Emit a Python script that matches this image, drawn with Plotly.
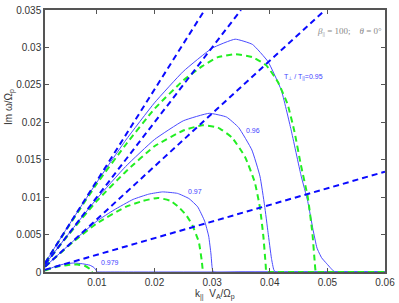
import plotly.graph_objects as go

# ---- data ----
# Blue solid: growth rate curves (T_perp/T_par = 0.95, 0.96, 0.97, 0.979)
k_095 = [0.001, 0.005, 0.010, 0.015, 0.020, 0.025, 0.030, 0.034, 0.037, 0.0397, 0.042, 0.0437, 0.0454, 0.0466, 0.0475, 0.0482, 0.0490, 0.0499, 0.0506, 0.0511, 0.0513, 0.052, 0.056, 0.060]
g_095 = [0.0012, 0.0061, 0.0120, 0.0176, 0.0226, 0.0268, 0.0299, 0.0311, 0.0304, 0.0281, 0.0243, 0.0190, 0.0130, 0.0094, 0.0057, 0.0032, 0.0019, 0.0011, 0.0005, 0.0001, 0.0, 0.0, 0.0, 0.0]

k_096 = [0.001, 0.005, 0.010, 0.015, 0.020, 0.025, 0.0295, 0.0325, 0.0346, 0.0369, 0.0383, 0.0391, 0.0397, 0.0403, 0.0407, 0.0410, 0.045, 0.060]
g_096 = [0.0010, 0.0050, 0.0098, 0.0141, 0.0177, 0.0202, 0.0212, 0.0207, 0.0193, 0.0163, 0.0128, 0.0089, 0.0053, 0.0018, 0.0003, 0.0, 0.0, 0.0]

k_097 = [0.001, 0.006, 0.010, 0.013, 0.0163, 0.0190, 0.0214, 0.024, 0.026, 0.0275, 0.0287, 0.0294, 0.0298, 0.0300, 0.0302, 0.035, 0.060]
g_097 = [0.0007, 0.0042, 0.0068, 0.0083, 0.0097, 0.0104, 0.0107, 0.0105, 0.0098, 0.0087, 0.0068, 0.0048, 0.0024, 0.0006, 0.0, 0.0, 0.0]

k_0979 = [0.001, 0.002, 0.003, 0.0045, 0.006, 0.0075, 0.0088, 0.0095, 0.0099, 0.0100, 0.0102, 0.015, 0.060]
g_0979 = [0.0002, 0.0005, 0.0008, 0.0011, 0.0012, 0.0011, 0.0009, 0.0006, 0.0002, 0.0, 0.0, 0.0, 0.0]

# Green dashed: approximations
kg_095 = [0.001, 0.005, 0.010, 0.015, 0.020, 0.025, 0.0283, 0.031, 0.034, 0.037, 0.0394, 0.0414, 0.0431, 0.0443, 0.0454, 0.0466, 0.0474, 0.0478, 0.0480, 0.0485, 0.052, 0.060]
gg_095 = [0.0012, 0.0060, 0.0118, 0.0170, 0.0218, 0.0256, 0.0275, 0.0287, 0.0291, 0.0287, 0.0276, 0.0254, 0.0224, 0.0187, 0.0143, 0.0100, 0.0052, 0.0014, 0.0, 0.0, 0.0, 0.0]

kg_096 = [0.001, 0.005, 0.010, 0.015, 0.020, 0.025, 0.0283, 0.031, 0.0334, 0.0357, 0.0374, 0.0383, 0.0389, 0.0393, 0.0394, 0.0398, 0.045, 0.060]
gg_096 = [0.0010, 0.0049, 0.0095, 0.0134, 0.0168, 0.0189, 0.0196, 0.0193, 0.0180, 0.0154, 0.0120, 0.0086, 0.0047, 0.0009, 0.0, 0.0, 0.0, 0.0]

kg_097 = [0.001, 0.006, 0.010, 0.015, 0.018, 0.0206, 0.0228, 0.0243, 0.0256, 0.0266, 0.0277, 0.0282, 0.0284]
gg_097 = [0.0007, 0.0041, 0.0065, 0.0087, 0.0095, 0.0099, 0.0095, 0.0086, 0.0075, 0.0062, 0.0040, 0.0015, 0.0]

kg_0979 = [0.001, 0.003, 0.005, 0.0066, 0.008, 0.0088, 0.0092]
gg_0979 = [0.0002, 0.0007, 0.00095, 0.0010, 0.0008, 0.0004, 0.0]

# Blue dashed straight lines (start and end points)
line_x = [[0.001, 0.0287], [0.001, 0.035], [0.001, 0.0496], [0.001, 0.060]]
line_y = [[0.0012, 0.035], [0.0010, 0.035], [0.0007, 0.035], [0.0003, 0.0134]]

x_ticks = [0.01, 0.02, 0.03, 0.04, 0.05, 0.06]
x_ticklabels = ["0.01", "0.02", "0.03", "0.04", "0.05", "0.06"]
y_ticks = [0, 0.005, 0.01, 0.015, 0.02, 0.025, 0.03, 0.035]
y_ticklabels = ["0", "0.005", "0.01", "0.015", "0.02", "0.025", "0.03", "0.035"]

labels = ["T<sub>⊥</sub> / T<sub>||</sub>=0.95", "0.96", "0.97", "0.979"]
label_x = [0.0458, 0.0371, 0.0271, 0.0122]
label_y = [0.0261, 0.0189, 0.0108, 0.0013]

BLUE_SOLID = "#4a4aff"
BLUE_DASH = "#0a0aff"
GREEN = "#22ee22"
FONT = "Liberation Sans, Arial"

fig = go.Figure()

for kx, gy in [(k_095, g_095), (k_096, g_096), (k_097, g_097), (k_0979, g_0979)]:
    fig.add_trace(go.Scatter(x=kx, y=gy, mode="lines",
                             line=dict(color=BLUE_SOLID, width=1, shape="spline", smoothing=0.4),
                             showlegend=False, hoverinfo="skip"))

for kx, gy in [(kg_095, gg_095), (kg_096, gg_096), (kg_097, gg_097), (kg_0979, gg_0979)]:
    fig.add_trace(go.Scatter(x=kx, y=gy, mode="lines",
                             line=dict(color=GREEN, width=2, dash="6px,4px", shape="spline", smoothing=0.4),
                             showlegend=False, hoverinfo="skip"))

for lx, ly in zip(line_x, line_y):
    fig.add_trace(go.Scatter(x=lx, y=ly, mode="lines",
                             line=dict(color=BLUE_DASH, width=2, dash="6px,4px"),
                             showlegend=False, hoverinfo="skip"))

for t, xx, yy in zip(labels, label_x, label_y):
    fig.add_annotation(x=xx, y=yy, text=t, showarrow=False,
                       font=dict(family=FONT, size=7, color="#4444ff"))

fig.add_annotation(x=0.0538, y=0.0321, text="<i>β</i><sub>||</sub> = 100;    <i>θ</i> = 0°", showarrow=False,
                   font=dict(family="Liberation Serif, Times New Roman", size=9, color="#888888"))

fig.add_annotation(xref="paper", yref="paper", x=-0.103, y=0.63, xanchor="center", yanchor="middle",
                   text="Im ω/Ω<sub>p</sub>", textangle=-90, showarrow=False,
                   font=dict(family=FONT, size=10, color="#333333"))

fig.add_annotation(xref="paper", yref="paper", x=0.5, y=-0.052, xanchor="center", yanchor="top",
                   text="k<sub>||</sub>  V<sub>A</sub>/Ω<sub>p</sub>", showarrow=False,
                   font=dict(family=FONT, size=10, color="#333333"))

axis_common = dict(showline=True, linecolor="#555555", linewidth=1.5, mirror="ticks",
                   ticks="inside", ticklen=4, tickcolor="#555555", showgrid=False, zeroline=False,
                   ticklabeloverflow="allow",
                   tickfont=dict(family=FONT, size=10, color="#333333"))

fig.update_xaxes(range=[0.001, 0.06], tickvals=x_ticks, ticktext=x_ticklabels, **axis_common)
fig.update_yaxes(range=[0, 0.035], tickvals=y_ticks, ticktext=y_ticklabels, **axis_common)

fig.update_layout(width=399, height=303, margin=dict(l=45, r=10, t=4, b=31),
                  plot_bgcolor="white", paper_bgcolor="white", showlegend=False)

fig.write_html("out.html", config={"displayModeBar": False},
               post_script="document.body.style.margin='0px';document.body.style.overflow='hidden';")
